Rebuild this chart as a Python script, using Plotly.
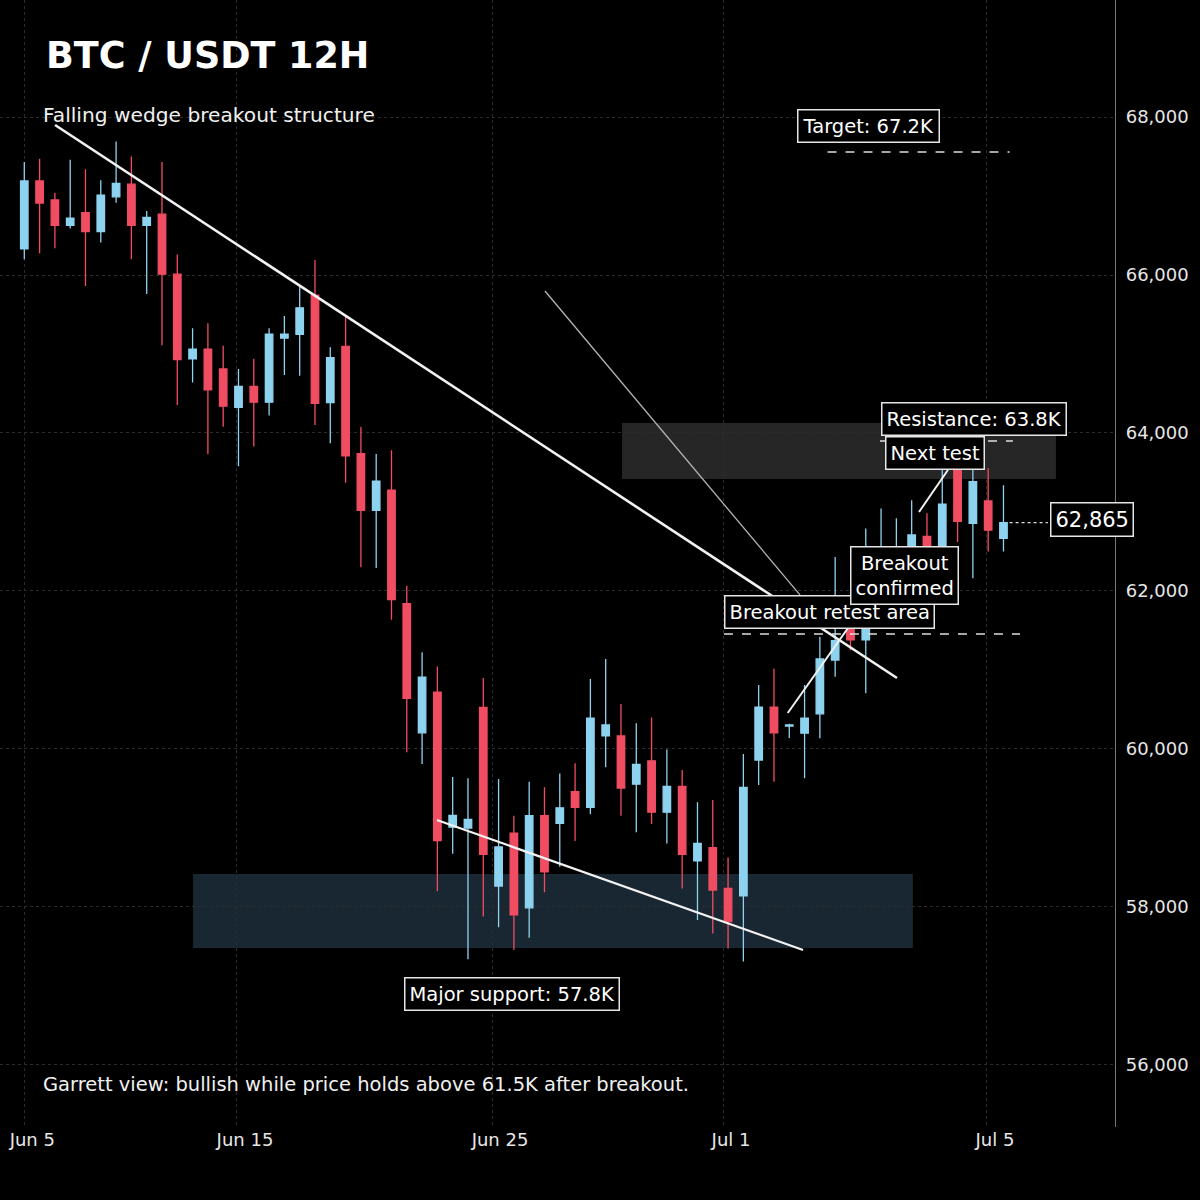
import plotly.graph_objects as go

# ---- data (12H candles, index-based x) ----
opens  = [66330,67190,66950,66630,66790,66550,66990,67150,66630,66770,66010,64940,65060,64810,64325,64590,64390,65200,65250,65745,
          64385,65095,63740,63020,63275,61840,60205,60720,59010,59000,60525,58265,58935,57990,59155,59060,59460,59260,60165,60165,
          59555,59850,59200,59525,58585,58750,58235,58140,59860,60530,60290,60200,60445,61125,61525,61380,62200,62300,62540,62690,
          62540,63780,62855,63140,62665]
highs  = [67430,67470,67040,67460,67340,67200,67690,67500,66810,67430,66260,65325,65390,65105,64810,64940,65325,65480,65860,66190,
          65085,65485,64075,63735,63780,62065,61225,61045,59645,59630,60900,59620,59155,59585,59515,59690,59820,60885,61140,60570,
          60325,60400,59995,59735,59325,59355,58625,59935,60810,61015,60320,60810,61420,62430,61700,62790,63045,62920,63150,62985,
          63530,63900,63650,63555,63340]
lows   = [66200,66275,66340,66590,65860,66410,66915,66200,65760,65110,64355,64640,63730,64080,63580,63830,64220,64735,64725,64100,
          63870,63370,62300,62290,61635,59960,59810,58200,58675,57340,57880,57745,57455,57610,58185,58510,58835,59175,59770,59155,
          58945,59050,58805,58235,57835,57665,57475,57310,59545,59585,60140,59630,60135,60915,61250,60705,61900,62000,62300,62300,
          62400,62620,62160,62500,62500]
closes = [67190,66910,66630,66720,66550,67010,67160,66630,66730,66010,64930,65060,64545,64340,64590,64390,65250,65250,65585,64375,
          64955,63710,63020,63390,61890,60640,60910,58840,59160,59110,58665,58760,57900,59155,58445,59255,59260,60390,60305,59505,
          59805,59200,59525,58665,58805,58215,57815,59515,60530,60205,60305,60390,61140,61370,61380,61545,62545,62560,62710,62540,
          63100,62880,63385,62770,62865]
idx = list(range(len(opens)))

tick_pos = [0, 13.9, 30.57, 45.67, 62.92]
tick_text = ["Jun 5", "Jun 15", "Jun 25", "Jul 1", "Jul 5"]
price_ticks = [56000, 58000, 60000, 62000, 64000, 66000, 68000]

# levels / zones (index, price)
support_zone = (11.03, 58.08, 57481, 58418)
resist_zone = (39.07, 67.43, 63418, 64127)
target_line = (52.5, 64.4, 67557)
resist_line = (55.93, 64.62, 63899)
retest_line = (45.73, 65.08, 61456)
last_price = 62865
upper_wedge = [(2.01, 67899), (57.04, 60899)]
lower_wedge = [(26.97, 59101), (50.9, 57456)]
thin_line = [(34.03, 65797), (50.7, 61950)]
retest_pointer = [(49.9, 60456), (53.84, 61532)]
next_pointer = [(58.48, 63000), (60.37, 63532)]

UP = "#8dd2ef"
DOWN = "#f04d63"
FONT = "DejaVu Sans"

fig = go.Figure()
fig.add_trace(go.Candlestick(
    x=idx, open=opens, high=highs, low=lows, close=closes,
    increasing=dict(line=dict(color=UP, width=1.3), fillcolor=UP),
    decreasing=dict(line=dict(color=DOWN, width=1.3), fillcolor=DOWN),
    whiskerwidth=0, showlegend=False, hoverinfo="skip"))

shapes = []
shapes.append(dict(type="rect", xref="x", yref="y", x0=support_zone[0], x1=support_zone[1],
                   y0=support_zone[2], y1=support_zone[3], fillcolor="#182731", line=dict(width=0), layer="below"))
shapes.append(dict(type="rect", xref="x", yref="y", x0=resist_zone[0], x1=resist_zone[1],
                   y0=resist_zone[2], y1=resist_zone[3], fillcolor="#262626", line=dict(width=0), layer="below"))
for (x0, x1, yv) in [target_line, resist_line, retest_line]:
    shapes.append(dict(type="line", xref="x", yref="y", x0=x0, x1=x1, y0=yv, y1=yv,
                       line=dict(color="#dddddd", width=1.6, dash="dash")))
shapes.append(dict(type="line", xref="x", yref="y", x0=64.4, x1=66.9, y0=last_price, y1=last_price,
                   line=dict(color="#dddddd", width=1.4, dash="dot")))
def seg(pts, color, width):
    return dict(type="line", xref="x", yref="y", x0=pts[0][0], y0=pts[0][1], x1=pts[1][0], y1=pts[1][1],
                line=dict(color=color, width=width))
shapes.append(seg(upper_wedge, "#f2f2f2", 2.6))
shapes.append(seg(lower_wedge, "#f2f2f2", 2.2))
shapes.append(seg(thin_line, "#b5b5b5", 1.3))
shapes.append(seg(retest_pointer, "#f2f2f2", 2))
shapes.append(seg(next_pointer, "#f2f2f2", 2))

box = dict(showarrow=False, xref="x", yref="y", font=dict(family=FONT, size=19.5, color="white"),
           bgcolor="black", bordercolor="#e6e6e6", borderwidth=1.5, borderpad=4)
annotations = [
    dict(x=55.21, y=67886, text="Target: 67.2K", **box),
    dict(x=62.07, y=64177, text="Resistance: 63.8K", **box),
    dict(x=59.52, y=63747, text="Next test", **box),
    dict(x=52.66, y=61734, text="Breakout retest area", **box),
    dict(x=57.56, y=62190, text="Breakout<br>confirmed", **box),
    dict(x=69.78, y=62911, text="62,865", **{**box, "font": dict(family=FONT, size=21, color="white")}),
    dict(x=31.87, y=56899, text="Major support: 57.8K", **box),
    dict(x=44/1115, y=1-55/1127, xref="paper", yref="paper", xanchor="left", yanchor="middle",
         text="<b>BTC / USDT 12H</b>", showarrow=False, font=dict(family=FONT, size=36.5, color="white")),
    dict(x=41/1115, y=1-115/1127, xref="paper", yref="paper", xanchor="left", yanchor="middle",
         text="Falling wedge breakout structure", showarrow=False, font=dict(family=FONT, size=20.2, color="#f0f0f0")),
    dict(x=41/1115, y=1-1084/1127, xref="paper", yref="paper", xanchor="left", yanchor="middle",
         text="Garrett view: bullish while price holds above 61.5K after breakout.", showarrow=False,
         font=dict(family=FONT, size=19.5, color="#f0f0f0")),
]

fig.update_layout(
    width=1200, height=1200,
    margin=dict(l=0, r=85, t=0, b=73),
    paper_bgcolor="black", plot_bgcolor="black",
    shapes=shapes, annotations=annotations,
    font=dict(family=FONT, color="#e6e6e6", size=18),
    xaxis=dict(range=[-1.588, 71.29], rangeslider=dict(visible=False), tickvals=tick_pos, ticktext=tick_text,
               showgrid=True, gridcolor="#2c2c2c", griddash="dot", gridwidth=1, zeroline=False, showline=False,
               ticks="", tickfont=dict(size=18, color="#e6e6e6"), ticklabelshift=8),
    yaxis=dict(range=[55215, 69481], side="right", tickvals=price_ticks, tickformat=",",
               showgrid=True, gridcolor="#2c2c2c", griddash="dot", gridwidth=1, zeroline=False,
               showline=True, linecolor="#777777", linewidth=1.2, ticks="", ticklabelstandoff=6,
               tickfont=dict(size=18, color="#e6e6e6")),
)

fig.write_html("out.html")
